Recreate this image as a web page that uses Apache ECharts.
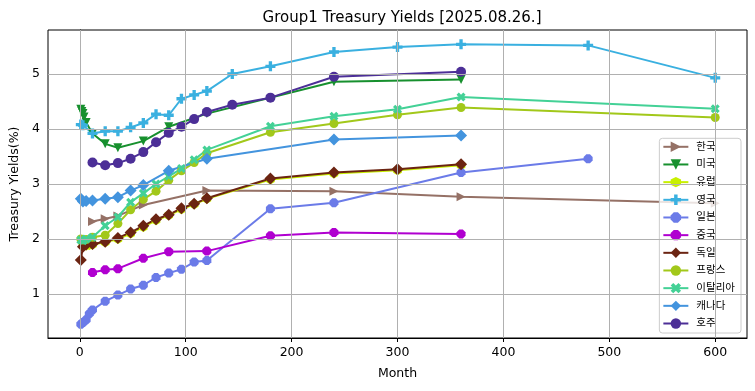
<!DOCTYPE html>
<html><head><meta charset="utf-8">
<script src="https://cdn.jsdelivr.net/npm/echarts@6/dist/echarts.min.js"></script>
<style>html,body{margin:0;padding:0;background:#fff}#c{width:755px;height:391px}</style>
</head><body><div id="c"></div>
<script>
// ---- data (months to maturity, yields %) ----
const seriesNames = ['한국','미국','유럽','영국','일본','중국','독일','프랑스','이탈리아','캐나다','호주'];

const krMonths = [12, 24, 36, 60, 120, 240, 360, 600];
const krYields = [2.32, 2.37, 2.42, 2.62, 2.88, 2.87, 2.77, 2.65];

const usMonths = [1, 2, 3, 4, 6, 12, 24, 36, 60, 84, 120, 240, 360];
const usYields = [4.36, 4.32, 4.28, 4.22, 4.12, 3.92, 3.73, 3.66, 3.78, 4.04, 4.28, 4.86, 4.90];

const euMonths = [3, 6, 9, 12, 24, 36, 48, 60, 72, 84, 96, 108, 120, 180, 240, 300, 360];
const euYields = [1.90, 1.88, 1.89, 1.90, 1.94, 2.00, 2.10, 2.22, 2.34, 2.43, 2.54, 2.63, 2.73, 3.08, 3.19, 3.25, 3.34];

const ukMonths = [1, 3, 12, 24, 36, 48, 60, 72, 84, 96, 108, 120, 144, 180, 240, 300, 360, 480, 600];
const ukYields = [4.08, 4.07, 3.92, 3.96, 3.96, 4.03, 4.11, 4.27, 4.25, 4.55, 4.62, 4.69, 5.00, 5.14, 5.40, 5.49, 5.54, 5.52, 4.93];

const jpMonths = [1, 3, 6, 9, 12, 24, 36, 48, 60, 72, 84, 96, 108, 120, 180, 240, 360, 480];
const jpYields = [0.45, 0.48, 0.53, 0.64, 0.71, 0.87, 0.98, 1.09, 1.16, 1.30, 1.38, 1.45, 1.58, 1.61, 2.55, 2.66, 3.21, 3.46];

const cnMonths = [12, 24, 36, 60, 84, 120, 180, 240, 360];
const cnYields = [1.39, 1.44, 1.46, 1.65, 1.77, 1.78, 2.06, 2.12, 2.09];

const deMonths = [1, 3, 6, 12, 24, 36, 48, 60, 72, 84, 96, 108, 120, 180, 240, 300, 360];
const deYields = [1.62, 1.86, 1.90, 1.91, 1.95, 2.02, 2.12, 2.24, 2.36, 2.44, 2.56, 2.64, 2.74, 3.10, 3.21, 3.27, 3.36];

const frMonths = [1, 3, 6, 12, 24, 36, 48, 60, 72, 84, 96, 108, 120, 180, 240, 300, 360, 600];
const frYields = [2.00, 1.98, 1.99, 2.03, 2.07, 2.28, 2.53, 2.72, 2.87, 3.07, 3.24, 3.39, 3.56, 3.94, 4.10, 4.26, 4.39, 4.21];

const itMonths = [1, 3, 6, 12, 24, 36, 48, 60, 72, 84, 96, 108, 120, 180, 240, 300, 360, 600];
const itYields = [1.98, 1.97, 2.00, 2.03, 2.24, 2.40, 2.67, 2.83, 3.00, 3.14, 3.28, 3.44, 3.62, 4.05, 4.23, 4.36, 4.58, 4.37];

const caMonths = [1, 3, 6, 12, 24, 36, 48, 60, 84, 120, 240, 360];
const caYields = [2.73, 2.68, 2.69, 2.70, 2.73, 2.76, 2.88, 2.98, 3.24, 3.46, 3.81, 3.88];

const auMonths = [12, 24, 36, 48, 60, 72, 84, 96, 108, 120, 144, 180, 240, 360];
const auYields = [3.39, 3.34, 3.38, 3.46, 3.58, 3.76, 3.93, 4.04, 4.18, 4.31, 4.44, 4.57, 4.95, 5.04];

const xTicks = [0, 100, 200, 300, 400, 500, 600];
const yTicks = [1, 2, 3, 4, 5];

// ---- styling ----
const SYM = {
  triRight: 'path://M0,0L10,5L0,10Z',
  triDown: 'path://M0,0L10,0L5,10Z',
  hexagon: 'path://M5,0L9.33,2.5L9.33,7.5L5,10L0.67,7.5L0.67,2.5Z',
  plus: 'path://M2,0H4V2H6V4H4V6H2V4H0V2H2Z',
  octagon: 'path://M3,0H7L10,3V7L7,10H3L0,7V3Z',
  diamond: 'path://M5,0L10,5L5,10L0,5Z',
  xfill: 'path://M1.5,0L3,1.5L4.5,0L6,1.5L4.5,3L6,4.5L4.5,6L3,4.5L1.5,6L0,4.5L1.5,3L0,1.5Z'
};
const styles = [
  {color:'#957166', symbol:SYM.triRight, size:9},
  {color:'#17902e', symbol:SYM.triDown, size:9},
  {color:'#c8f000', symbol:SYM.hexagon, size:10},
  {color:'#3ab0e0', symbol:SYM.plus, size:10},
  {color:'#6b7be8', symbol:SYM.octagon, size:9},
  {color:'#b000d0', symbol:SYM.octagon, size:9},
  {color:'#6b2412', symbol:SYM.diamond, size:12},
  {color:'#a2c81a', symbol:'circle', size:9},
  {color:'#43d196', symbol:SYM.xfill, size:9},
  {color:'#4394de', symbol:SYM.diamond, size:12},
  {color:'#4c2f97', symbol:'circle', size:10}
];
const monthsList = [krMonths, usMonths, euMonths, ukMonths, jpMonths, cnMonths, deMonths, frMonths, itMonths, caMonths, auMonths];
const yieldsList = [krYields, usYields, euYields, ukYields, jpYields, cnYields, deYields, frYields, itYields, caYields, auYields];

const FONT = "'DejaVu Sans', 'Noto Sans CJK KR', sans-serif";

const series = [{
  type: 'line', name: '_grid', data: [], z: 1, silent: true,
  markLine: {
    silent: true, symbol: ['none','none'], animation: false,
    label: {show: false},
    lineStyle: {color: '#b0b0b0', width: 1, type: 'solid'},
    emphasis: {disabled: true},
    data: xTicks.map(v => ({xAxis: v})).concat(yTicks.map(v => ({yAxis: v})))
  }
}];
seriesNames.forEach((n, i) => {
  const s = styles[i];
  series.push({
    type: 'line', name: n,
    data: monthsList[i].map((m, k) => [m, yieldsList[i][k]]),
    symbol: s.symbol, symbolSize: s.size, symbolKeepAspect: true,
    showAllSymbol: true,
    itemStyle: {color: s.color},
    lineStyle: {color: s.color, width: 2},
    emphasis: {disabled: true}
  });
});

const chart = echarts.init(document.getElementById('c'), null, {renderer: 'canvas'});
chart.setOption({
  animation: false,
  backgroundColor: '#fff',
  title: {
    text: 'Group1 Treasury Yields [2025.08.26.]',
    left: 397, top: 6, textAlign: 'center',
    textStyle: {fontFamily: FONT, fontSize: 15, fontWeight: 'normal', color: '#000'}
  },
  grid: {left: 48, right: 8, top: 30, bottom: 53, show: true, borderColor: '#000', borderWidth: 1, backgroundColor: 'transparent'},
  xAxis: {
    type: 'value', min: -30, max: 630,
    name: 'Month', nameLocation: 'middle', nameGap: 29,
    nameTextStyle: {fontFamily: FONT, fontSize: 12.5, color: '#000'},
    axisLine: {show: true, lineStyle: {color: '#000', width: 1}},
    axisTick: {show: true, length: 4, lineStyle: {color: '#000'}, customValues: xTicks},
    axisLabel: {fontFamily: FONT, fontSize: 12.5, color: '#000', margin: 8, customValues: xTicks},
    splitLine: {show: false}
  },
  yAxis: {
    type: 'value', min: 0.2, max: 5.8,
    name: 'Treasury Yields(%)', nameLocation: 'middle', nameGap: 24,
    nameTextStyle: {fontFamily: FONT, fontSize: 12.5, color: '#000'},
    axisLine: {show: true, lineStyle: {color: '#000', width: 1}},
    axisTick: {show: true, length: 4, lineStyle: {color: '#000'}, customValues: yTicks},
    axisLabel: {fontFamily: FONT, fontSize: 12.5, color: '#000', margin: 8, customValues: yTicks},
    splitLine: {show: false}
  },
  legend: {
    orient: 'vertical', right: 14, bottom: 58,
    data: seriesNames,
    itemWidth: 25, itemHeight: 13, itemGap: 4.67,
    padding: [2, 6, 3, 3],
    backgroundColor: 'rgba(255,255,255,0.8)',
    borderColor: '#cccccc', borderWidth: 1, borderRadius: 3,
    textStyle: {fontFamily: FONT, fontSize: 10.5, color: '#000', lineHeight: 13, padding: [0, 0, 0, 3]}
  },
  series: series
});
</script>
</body></html>
